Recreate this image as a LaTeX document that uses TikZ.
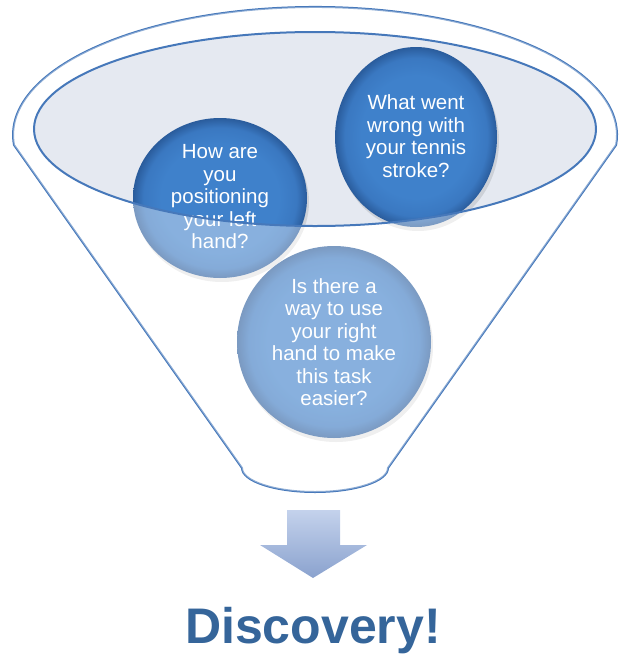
\documentclass[tikz,border=0pt]{standalone}
\usepackage{fontspec}
\setmainfont{Liberation Sans}
\usepackage{tikz}
\usetikzlibrary{shadings}
\definecolor{funnelline}{RGB}{70,120,186}
\definecolor{mouthfill}{RGB}{229,233,241}
\definecolor{ballin}{RGB}{63,129,203}
\definecolor{ballmid}{RGB}{58,120,193}
\definecolor{ballout}{RGB}{42,92,156}
\definecolor{arrowtop}{RGB}{196,210,236}
\definecolor{arrowbot}{RGB}{138,162,206}
\definecolor{discblue}{RGB}{53,101,154}
\pgfdeclareradialshading{ballshade}{\pgfpoint{0bp}{0bp}}{color(0bp)=(ballin); color(17bp)=(ballin); color(22bp)=(ballmid); color(25bp)=(ballout); color(50bp)=(ballout)}

\begin{document}
\begin{tikzpicture}[x=1pt,y=-1pt,line join=round,
  rim/.style={funnelline,line width=2pt},
  ball/.style={shading=ballshade},
  ballshadow/.style={black,opacity=.1},
  question/.style={text=white,align=center,inner sep=0pt,font=\fontsize{20.5}{22.5}\selectfont}]
\useasboundingbox (0,0) rectangle (624,665);
% funnel body and mouth
\draw[rim] (14,145) arc[start angle=175.5,end angle=364.5,x radius=302,y radius=128]
  -- (388,468) arc[start angle=0,end angle=180,x radius=73,y radius=24] -- cycle;
\fill[mouthfill] (315,129) ellipse[x radius=281,y radius=97];
% the three questions
\fill[ballshadow] (418,141) ellipse[x radius=81,y radius=90];
\shade[ball] (416,137) ellipse[x radius=81,y radius=90];
\node[question] (wrong) at (416,136) {What went\\wrong with\\your tennis\\stroke?};
\fill[ballshadow] (222,202) ellipse[x radius=87,y radius=80];
\shade[ball] (220,198) ellipse[x radius=87,y radius=80];
\node[question] (left) at (220,197) {How are\\you\\positioning\\your left\\hand?};
\fill[ballshadow] (336,346) ellipse[x radius=97,y radius=96];
\shade[ball] (334,342) ellipse[x radius=97,y radius=96];
\node[question] (right) at (334,342) {Is there a\\way to use\\your right\\hand to make\\this task\\easier?};
% front of the funnel
\fill[white,opacity=.38,even odd rule] (14,145) arc[start angle=175.5,end angle=364.5,x radius=302,y radius=128]
  -- (388,468) arc[start angle=0,end angle=180,x radius=73,y radius=24] -- cycle
  (315,129) ellipse[x radius=281,y radius=97];
\draw[rim] (315,129) ellipse[x radius=281,y radius=97];
% arrow and result
\shade[top color=arrowtop,bottom color=arrowbot]
  (287,510) -- (340,510) -- (340,545) -- (367,545) -- (313,578) -- (260,545) -- (287,545) -- cycle;
\node[anchor=base,text=discblue,inner sep=0pt,font=\fontsize{50}{60}\selectfont\bfseries] (disc) at (313,643) {Discovery!};
\end{tikzpicture}
\end{document}
